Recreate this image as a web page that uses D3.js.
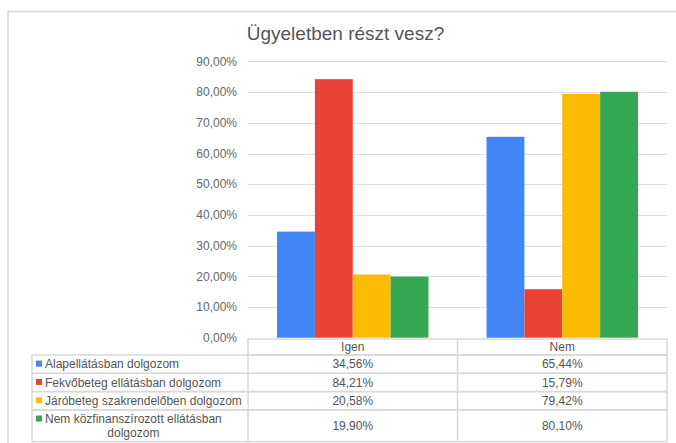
<!DOCTYPE html>
<html>
<head>
<meta charset="utf-8">
<script src="https://cdn.jsdelivr.net/npm/d3@7"></script>
<style>
  body { margin: 0; background: #fff; }
  svg { display: block; font-family: "Liberation Sans", Arial, sans-serif; }
</style>
</head>
<body>
<div id="chart"></div>
<script>
const categories = ["Igen", "Nem"];
const seriesNames = [
  "Alapellátásban dolgozom",
  "Fekvőbeteg ellátásban dolgozom",
  "Járóbeteg szakrendelőben dolgozom",
  "Nem közfinanszírozott ellátásban dolgozom"
];
const alapellatas = [34.56, 65.44];
const fekvobeteg = [84.21, 15.79];
const jarobeteg = [20.58, 79.42];
const nemKozfin = [19.90, 80.10];
const yTicks = [0, 10, 20, 30, 40, 50, 60, 70, 80, 90];
const colors = ["#4285f4", "#ea4335", "#fbbc04", "#34a853"];

const series = [alapellatas, fekvobeteg, jarobeteg, nemKozfin];

const W = 676, H = 443;
const plot = { left: 248, right: 667, top: 61.4, bottom: 337.7 };

const huLocale = d3.formatLocale({ decimal: ",", thousands: " ", grouping: [3], currency: ["", " Ft"] });
const fmt = (v) => huLocale.format(".2f")(v) + "%";

const svg = d3.select("#chart").append("svg")
  .attr("width", W).attr("height", H);

// outer frame
svg.append("path")
  .attr("d", `M8,${H} L8,11.5 L${W},11.5`)
  .attr("fill", "none").attr("stroke", "#d9d9d9").attr("stroke-width", 1.5);

svg.append("text")
  .attr("x", 345.5).attr("y", 40)
  .attr("text-anchor", "middle")
  .attr("fill", "#555")
  .style("font-size", "19px")
  .text("Ügyeletben részt vesz?");

const y = d3.scaleLinear().domain([0, 90]).range([plot.bottom, plot.top]);
const x0 = d3.scaleBand().domain(categories).range([plot.left, plot.right])
  .paddingInner(0.277).paddingOuter(0.1385);
const x1 = d3.scaleBand().domain(d3.range(series.length)).range([0, x0.bandwidth()]);

// gridlines
svg.append("g").selectAll("line").data(yTicks.filter(t => t > 0)).join("line")
  .attr("x1", plot.left).attr("x2", plot.right)
  .attr("y1", d => Math.round(y(d)) + 0.5).attr("y2", d => Math.round(y(d)) + 0.5)
  .attr("stroke", "#e0e0e0").attr("stroke-width", 1);

// y tick labels
svg.append("g").selectAll("text").data(yTicks).join("text")
  .attr("x", 237).attr("y", d => y(d))
  .attr("dy", "0.35em")
  .attr("text-anchor", "end")
  .attr("fill", "#666")
  .style("font-size", "12px")
  .text(d => fmt(d));

// bars
const groups = svg.append("g").selectAll("g").data(categories).join("g")
  .attr("transform", d => `translate(${x0(d)},0)`);
groups.selectAll("rect")
  .data((c, ci) => series.map((s, si) => ({ si, v: s[ci] })))
  .join("rect")
  .attr("x", d => x1(d.si))
  .attr("width", x1.bandwidth())
  .attr("y", d => y(d.v))
  .attr("height", d => y(0) - y(d.v))
  .attr("fill", d => colors[d.si]);

// data table
const table = svg.append("g");
const tableLeft = 32;
const headerTop = 339, headerBottom = 355;
const lineH = 13.4, rowH = 18.3;
const step = x0.step();
const colEdges = [tableLeft, plot.left, plot.left + step, plot.left + 2 * step];
const border = "#d9d9d9";

// wrap labels to the first column width
const measure = svg.append("text").style("font-size", "12px").attr("visibility", "hidden");
function wrap(label, maxW) {
  const words = label.split(" ");
  const lines = [];
  let cur = [];
  for (const w of words) {
    const test = cur.concat(w).join(" ");
    measure.text(test);
    if (measure.node().getComputedTextLength() > maxW && cur.length) {
      lines.push(cur.join(" "));
      cur = [w];
    } else cur.push(w);
  }
  lines.push(cur.join(" "));
  return lines;
}
const wrapped = seriesNames.map(n => wrap(n, 206));
measure.remove();

const rowTops = [headerBottom];
wrapped.forEach(l => rowTops.push(rowTops[rowTops.length - 1] + rowH + lineH * (l.length - 1)));
const tableBottom = rowTops[rowTops.length - 1];

// header row
table.append("rect")
  .attr("x", plot.left).attr("y", headerTop)
  .attr("width", colEdges[3] - plot.left).attr("height", headerBottom - headerTop)
  .attr("fill", "none").attr("stroke", border).attr("stroke-width", 1.5);
table.selectAll(".hdr").data(categories).join("text")
  .attr("x", d => x0(d) + x0.bandwidth() / 2)
  .attr("y", (headerTop + headerBottom) / 2).attr("dy", "0.35em")
  .attr("text-anchor", "middle").attr("fill", "#555")
  .style("font-size", "12px")
  .text(d => d);

// body rows
wrapped.forEach((lines, i) => {
  const top = rowTops[i], bot = rowTops[i + 1];
  const g = table.append("g");
  g.append("rect")
    .attr("x", tableLeft).attr("y", top)
    .attr("width", colEdges[3] - tableLeft).attr("height", bot - top)
    .attr("fill", "none").attr("stroke", border).attr("stroke-width", 1.5);
  const firstY = (top + bot) / 2 - (lines.length - 1) * lineH / 2;
  g.append("rect")
    .attr("x", 36).attr("y", firstY - 3.5)
    .attr("width", 6).attr("height", 6)
    .attr("fill", colors[i]);
  const lineWidths = [];
  const t = g.append("text").attr("fill", "#555").style("font-size", "12px");
  lines.forEach((ln, li) => {
    t.append("tspan").attr("x", 45).attr("y", firstY + li * lineH).attr("dy", "0.35em").text(ln);
  });
  // centre continuation lines under the first
  const spans = t.selectAll("tspan").nodes();
  const w0 = spans[0].getComputedTextLength();
  spans.slice(1).forEach(s => {
    d3.select(s).attr("x", 45 + w0 / 2).attr("text-anchor", "middle");
  });
  categories.forEach((c, ci) => {
    g.append("text")
      .attr("x", x0(c) + x0.bandwidth() / 2)
      .attr("y", (top + bot) / 2).attr("dy", "0.35em")
      .attr("text-anchor", "middle").attr("fill", "#555")
      .style("font-size", "12px")
      .text(fmt(series[i][ci]));
  });
});

// column dividers
table.selectAll(".div").data(colEdges.slice(1, 3)).join("line")
  .attr("x1", d => d).attr("x2", d => d)
  .attr("y1", (d, i) => i === 0 ? headerBottom : headerTop).attr("y2", tableBottom)
  .attr("stroke", border).attr("stroke-width", 1.5);
</script>
</body>
</html>
